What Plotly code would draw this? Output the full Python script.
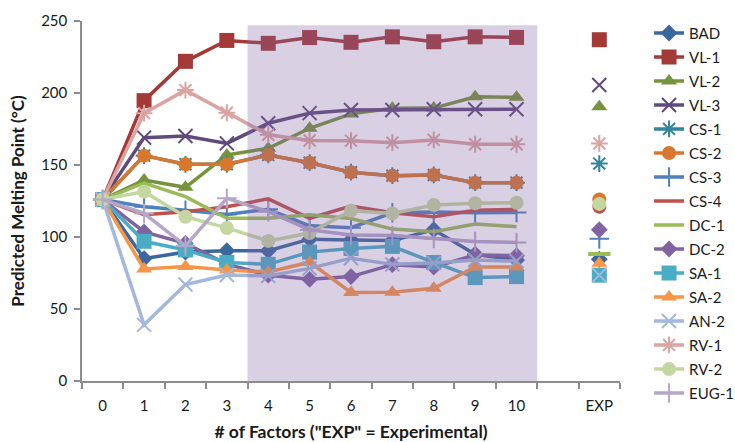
import plotly.graph_objects as go

# x categories: factor counts 0..10, a spacer slot, then the experimental value
factor_labels = [str(i) for i in range(11)]
spacer_label = " "
exp_label = "EXP"

series_names = ["BAD", "VL-1", "VL-2", "VL-3", "CS-1", "CS-2", "CS-3", "CS-4",
                "DC-1", "DC-2", "SA-1", "SA-2", "AN-2", "RV-1", "RV-2", "EUG-1"]

bad = [126, 85, 89.5, 90.5, 90.5, 98.5, 98, 97.5, 105, 88, 84]
vl1 = [126, 194.7, 222, 236.5, 234.5, 238.5, 235.2, 239, 235.6, 239, 238.6]
vl2 = [126, 139.5, 134.5, 157, 161.6, 175.5, 185.5, 189.4, 189.5, 197.4, 197]
vl3 = [126, 169, 170.1, 165, 179, 186, 188.2, 188.2, 188.7, 188.7, 188.7]
cs1 = [126, 156.5, 150.5, 150.5, 157, 151.6, 145, 142.6, 143.1, 137.7, 137.7]
cs2 = [126, 156.5, 150.5, 150.5, 157, 151.6, 145, 142.6, 143.1, 137.7, 137.7]
cs3 = [126, 121, 118.5, 115.7, 119.2, 107.8, 106.5, 116.8, 117.3, 116.8, 117]
cs4 = [126, 115.5, 117.6, 121, 126.5, 113, 121.5, 116.8, 114.1, 118.5, 119.2]
dc1 = [126, 137.5, 128, 113, 113, 115.5, 112.8, 105.5, 103.7, 109, 107.2]
dc2 = [126, 103.5, 95.6, 81.2, 73.5, 70.6, 72.5, 80.8, 79.2, 87.5, 87]
sa1 = [126, 97, 91, 82.3, 81, 89.5, 92, 93.5, 82.3, 71.8, 72.5]
sa2 = [126, 77.8, 79.5, 77.1, 75.7, 82.5, 61.5, 61.7, 64.4, 79.2, 79.2]
an2 = [126, 39, 67, 73.6, 73, 78.2, 85.3, 81, 82, 84, 83.3]
rv1 = [126, 186, 202, 186.3, 171, 167, 166.9, 165.5, 167.4, 164.4, 164.4]
rv2 = [126, 131.5, 114.1, 106.3, 97.3, 102.8, 118.3, 116.4, 122.2, 123.4, 123.8]
eug1 = [126, 116.4, 93.8, 126.9, 117.6, 105, 101.4, 101, 99, 96.8, 96.2]

# experimental melting points (None = not shown)
exp_values = [84.5, 237, 190.5, 205.6, 151, 126, 98.7, 121,
              88.2, 105, 73.5, 81.7, 73.5, 165, 123, None]

predicted = [bad, vl1, vl2, vl3, cs1, cs2, cs3, cs4,
             dc1, dc2, sa1, sa2, an2, rv1, rv2, eug1]

colors = ["#3b679f", "#a33a38", "#77933c", "#604a7b", "#31859c", "#d9772f",
          "#4f81bd", "#c0504d", "#9bbb59", "#8064a2", "#4bacc6", "#f79646",
          "#a3b8dc", "#dba3a2", "#c4d7a0", "#b6a6ca"]

symbols = ["diamond", "square", "triangle-up", "x-thin-open", "asterisk-open",
           "circle", "cross-thin-open", None, None, "diamond", "square",
           "triangle-up", "x-thin-open", "asterisk-open", "circle",
           "cross-thin-open"]

sizes = [13, 15, 14, 14, 14, 14, 14, 0, 0, 13, 15, 14, 14, 14, 14, 14]

# marker drawn for the experimental value of the line-only series
exp_symbols = {"CS-4": "circle", "DC-1": "line-ew-open"}

font_family = "Lato, 'Open Sans', sans-serif"

fig = go.Figure()

for name, vals, col, sym, size in zip(series_names, predicted, colors,
                                      symbols, sizes):
    thin = sym is not None and sym.endswith("-open")
    marker = dict(color=col, size=size)
    if sym is not None:
        marker["symbol"] = sym
        marker["line"] = dict(color=col, width=2 if thin else 0)
    fig.add_trace(go.Scatter(
        x=factor_labels, y=vals, name=name, legendgroup=name,
        mode="lines+markers" if sym is not None else "lines",
        line=dict(color=col, width=3.5),
        marker=marker,
    ))

# experimental points, drawn in the separate EXP column
for name, col, sym, size, ev in zip(series_names, colors, symbols, sizes,
                                    exp_values):
    if ev is None:
        continue
    s = sym if sym is not None else exp_symbols[name]
    thin = s.endswith("-open")
    sz = size if size else (14 if s == "circle" else 16)
    lw = (4 if s.startswith("line") else 2) if thin else 0
    fig.add_trace(go.Scatter(
        x=[exp_label], y=[ev], legendgroup=name, showlegend=False,
        mode="markers",
        marker=dict(symbol=s, color=col, size=sz, line=dict(color=col, width=lw)),
    ))

# shaded region covering 4..10 factors, laid over the data
fig.add_shape(type="rect", xref="x", yref="y", x0=3.5, x1=10.5, y0=0, y1=247,
              fillcolor="rgb(128,100,162)", opacity=0.3, line=dict(width=0),
              layer="above")

axis_grey = "#8c8c8c"
fig.update_layout(
    width=735, height=442,
    margin=dict(l=82, r=115, t=21, b=61, autoexpand=False),
    paper_bgcolor="white", plot_bgcolor="white",
    font=dict(family=font_family, size=14, color="#1a1a1a"),
    showlegend=True,
    legend=dict(
        x=1.054, xanchor="left", y=1.012, yanchor="top",
        font=dict(family=font_family, size=15, color="#1a1a1a"),
        tracegroupgap=1.5, bgcolor="rgba(0,0,0,0)", maxheight=440,
    ),
    xaxis=dict(
        type="category",
        categoryorder="array",
        categoryarray=factor_labels + [spacer_label, exp_label],
        range=[-0.5, 12.5], automargin=False,
        showline=True, linecolor=axis_grey, linewidth=1.5,
        ticks="outside", tickson="boundaries", ticklen=6, tickcolor=axis_grey,
        tickwidth=1.5, ticklabelstandoff=10,
        showgrid=False, zeroline=False,
        tickfont=dict(size=15),
        title=dict(text="<b># of Factors (\"EXP\" = Experimental)</b>",
                   font=dict(size=17.5), standoff=14),
    ),
    yaxis=dict(
        range=[0, 250], tickvals=[0, 50, 100, 150, 200, 250],
        automargin=False,
        showline=True, linecolor=axis_grey, linewidth=1.5,
        ticks="outside", ticklen=6, tickcolor=axis_grey, tickwidth=1.5,
        ticklabelstandoff=4,
        showgrid=False, zeroline=False,
        tickfont=dict(size=15),
        title=dict(text="<b>Predicted Melting Point (°C)</b>",
                   font=dict(size=17), standoff=12),
    ),
)

fig.write_html("out.html")
